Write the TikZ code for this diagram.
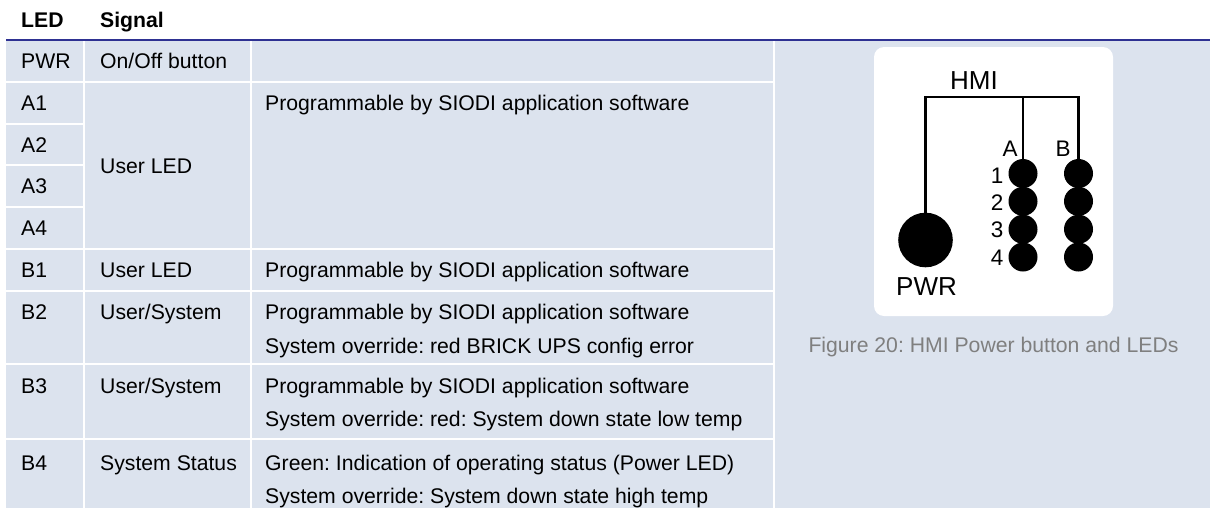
\documentclass[tikz,border=0pt]{standalone}
\usepackage{fontspec}
\setmainfont{Liberation Sans}
\frenchspacing
\definecolor{cellbg}{HTML}{DCE3EE}
\definecolor{rulecol}{HTML}{2E3192}
\definecolor{capgray}{HTML}{7F7F7F}
\newcommand\tabfnt{\fontsize{21.2}{24}\selectfont\frenchspacing}
\newcommand\figfnt{\fontsize{22.5}{26}\selectfont}
\newcommand\bigfnt{\fontsize{26}{30}\selectfont}
\tikzset{
  cell/.style={fill=cellbg},
  txt/.style={anchor=base west, inner sep=0pt, font=\tabfnt, text=black},
  hdr/.style={anchor=base west, inner sep=0pt, font=\tabfnt\bfseries, text=black},
  led/.style={circle, fill=black, inner sep=0pt, minimum size=29pt},
  pwrled/.style={circle, fill=black, inner sep=0pt, minimum size=54.6pt},
  wire/.style={line width=2.5pt, black, line cap=rect, line join=miter},
  flab/.style={anchor=base, inner sep=0pt, font=\figfnt},
  blab/.style={anchor=base, inner sep=0pt, font=\bigfnt},
}
\begin{document}
\begin{tikzpicture}[x=1pt,y=-1pt]
\useasboundingbox (0,0) rectangle (1210,509);
\fill[white] (0,0) rectangle (1210,509);
% header
\node[hdr] (hled) at (21,27) {LED};
\node[hdr] (hsig) at (100,27) {Signal};
\fill[rulecol] (6,39) rectangle (1210,41);
% column 1 cells
\foreach \a/\b in {41/81,83/123,125/164,166/206,208/248,250/290,292/363,365/438,440/508}
  \fill[cell] (6,\a) rectangle (83,\b);
% column 2 cells
\foreach \a/\b in {41/81,83/248,250/290,292/363,365/438,440/508}
  \fill[cell] (85,\a) rectangle (250,\b);
% column 3 cells
\foreach \a/\b in {41/81,83/248,250/290,292/363,365/438,440/508}
  \fill[cell] (252,\a) rectangle (773,\b);
% column 4 cell
\fill[cell] (775,41) rectangle (1210,508);
% column 1 text
\node[txt] (lpwr) at (21,68) {PWR};
\node[txt] (la1) at (21,110.5) {A1};
\node[txt] (la2) at (21,152) {A2};
\node[txt] (la3) at (21,193.5) {A3};
\node[txt] (la4) at (21,235.5) {A4};
\node[txt] (lb1) at (21,277.5) {B1};
\node[txt] (lb2) at (21,319.5) {B2};
\node[txt] (lb3) at (21,393) {B3};
\node[txt] (lb4) at (21,470) {B4};
% column 2 text
\node[txt] (spwr) at (100,68) {On/Off button};
\node[txt] (sa) at (100,173) {User LED};
\node[txt] (sb1) at (100,277.5) {User LED};
\node[txt] (sb2) at (100,319.5) {User/System};
\node[txt] (sb3) at (100,393) {User/System};
\node[txt] (sb4) at (100,470) {System Status};
% column 3 text
\node[txt] (da) at (265,110.5) {Programmable by SIODI application software};
\node[txt] (db1) at (265,277.5) {Programmable by SIODI application software};
\node[txt] (db2a) at (265,319.5) {Programmable by SIODI application software};
\node[txt] (db2b) at (265,353) {System override: red BRICK UPS config error};
\node[txt] (db3a) at (265,393) {Programmable by SIODI application software};
\node[txt] (db3b) at (265,426.5) {System override: red: System down state low temp};
\node[txt] (db4a) at (265,470) {Green: Indication of operating status (Power LED)};
\node[txt] (db4b) at (265,503.5) {System override: System down state high temp};
% figure
\fill[white, rounded corners=10pt] (874,47) rectangle (1113,316);
\node[blab] (hmi) at (974,89) {HMI};
\node[pwrled] (pwr) at (925.5,240) {};
\node[blab] (pwrtxt) at (926.5,295) {PWR};
\foreach \n/\y in {1/173.5,2/201.3,3/229.2,4/257}{
  \node[led] (a\n) at (1023,\y) {};
  \node[led] (b\n) at (1078.5,\y) {};
}
\foreach \n/\y in {1/183,2/210,3/237.5,4/265}
  \node[flab] (num\n) at (997,\y) {\n};
\node[flab] (alab) at (1010,156) {A};
\node[flab] (blab) at (1063,156) {B};
\coordinate (tl) at (925.5,97);
\coordinate (tm) at (1023,97);
\coordinate (tr) at (1078.5,97);
\draw[wire] (pwr.north) -- (tl) -- (tr) -- (b1.north);
\draw[wire] (tm) -- (a1.north);
\node[anchor=base, inner sep=0pt, font=\tabfnt, text=capgray] (cap) at (993.5,352) {Figure 20: HMI Power button and LEDs};
\end{tikzpicture}
\end{document}
